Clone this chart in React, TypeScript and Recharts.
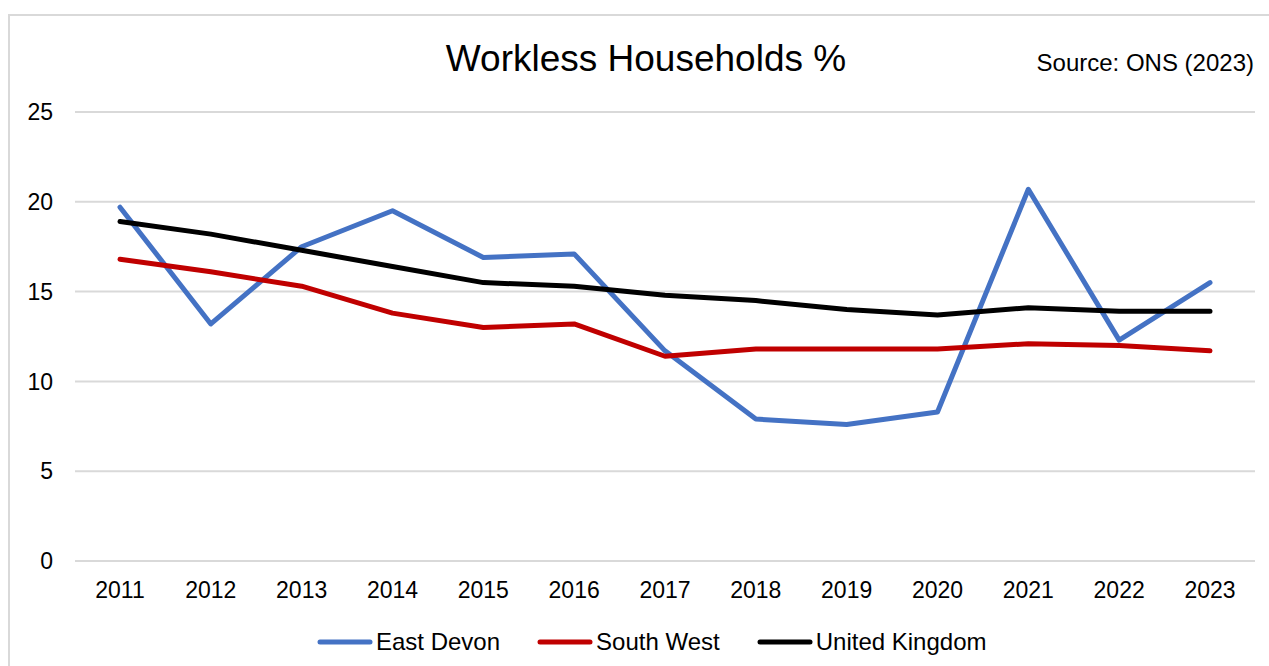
import React from "react";
import { LineChart, Line, XAxis, YAxis, CartesianGrid, Legend } from "recharts";

const years = ["2011", "2012", "2013", "2014", "2015", "2016", "2017", "2018", "2019", "2020", "2021", "2022", "2023"];
const eastDevon = [19.7, 13.2, 17.5, 19.5, 16.9, 17.1, 11.7, 7.9, 7.6, 8.3, 20.7, 12.3, 15.5];
const southWest = [16.8, 16.1, 15.3, 13.8, 13.0, 13.2, 11.4, 11.8, 11.8, 11.8, 12.1, 12.0, 11.7];
const unitedKingdom = [18.9, 18.2, 17.3, 16.4, 15.5, 15.3, 14.8, 14.5, 14.0, 13.7, 14.1, 13.9, 13.9];
const yTicks = [0, 5, 10, 15, 20, 25];

const seriesNames = ["East Devon", "South West", "United Kingdom"];
const seriesColors = ["#4472C4", "#C00000", "#000000"];

const data = years.map((y, i) => ({
  year: y,
  ed: eastDevon[i],
  sw: southWest[i],
  uk: unitedKingdom[i],
}));

const FONT = "'Liberation Sans', Arial, sans-serif";

const LegendContent = () => (
  <div style={{ display: "flex", alignItems: "center", paddingLeft: 317, fontFamily: FONT, fontSize: 24, color: "#000" }}>
    {seriesNames.map((n, i) => (
      <div key={n} style={{ display: "flex", alignItems: "center", marginRight: 37 }}>
        <svg width={56} height={8} style={{ marginRight: 3 }}>
          <line x1={3} y1={4} x2={53} y2={4} stroke={seriesColors[i]} strokeWidth={5} strokeLinecap="round" />
        </svg>
        <span>{n}</span>
      </div>
    ))}
  </div>
);

export default function App() {
  return (
    <div style={{ position: "absolute", left: 0, top: 0, width: 1269, height: 666, overflow: "hidden", background: "#fff" }}>
      <div style={{ position: "absolute", left: 8, top: 14, width: 1300, height: 700, border: "2px solid #d9d9d9" }} />
      <div style={{ position: "absolute", left: 0, top: 0, width: 1269, height: 666 }}>
        <LineChart width={1269} height={666} data={data} margin={{ top: 112, right: 14, bottom: 75, left: 15 }}>
          <text x={646} y={71} textAnchor="middle" style={{ fontFamily: FONT, fontSize: 37, fill: "#000" }}>
            Workless Households %
          </text>
          <text x={1254} y={71} textAnchor="end" style={{ fontFamily: FONT, fontSize: 24, fill: "#000" }}>
            Source: ONS (2023)
          </text>
          <CartesianGrid vertical={false} stroke="#d9d9d9" strokeWidth={2} />
          <XAxis
            dataKey="year"
            axisLine={false}
            tickLine={false}
            tickSize={0}
            tickMargin={21}
            height={30}
            padding={{ left: 45, right: 45 }}
            tick={{ fontFamily: FONT, fontSize: 23, fill: "#000" }}
            interval={0}
          />
          <YAxis
            domain={[0, 25]}
            ticks={yTicks}
            axisLine={false}
            tickLine={false}
            tickSize={0}
            tickMargin={22}
            width={60}
            tick={{ fontFamily: FONT, fontSize: 23, fill: "#000" }}
          />
          <Legend
            layout="horizontal"
            verticalAlign="middle"
            align="center"
            wrapperStyle={{ top: 628, left: 0, width: 1269 }}
            content={<LegendContent />}
          />
          <Line dataKey="ed" name={seriesNames[0]} stroke={seriesColors[0]} strokeWidth={5} dot={false} isAnimationActive={false} strokeLinejoin="round" strokeLinecap="round" />
          <Line dataKey="sw" name={seriesNames[1]} stroke={seriesColors[1]} strokeWidth={5} dot={false} isAnimationActive={false} strokeLinejoin="round" strokeLinecap="round" />
          <Line dataKey="uk" name={seriesNames[2]} stroke={seriesColors[2]} strokeWidth={5} dot={false} isAnimationActive={false} strokeLinejoin="round" strokeLinecap="round" />
        </LineChart>
      </div>
    </div>
  );
}
